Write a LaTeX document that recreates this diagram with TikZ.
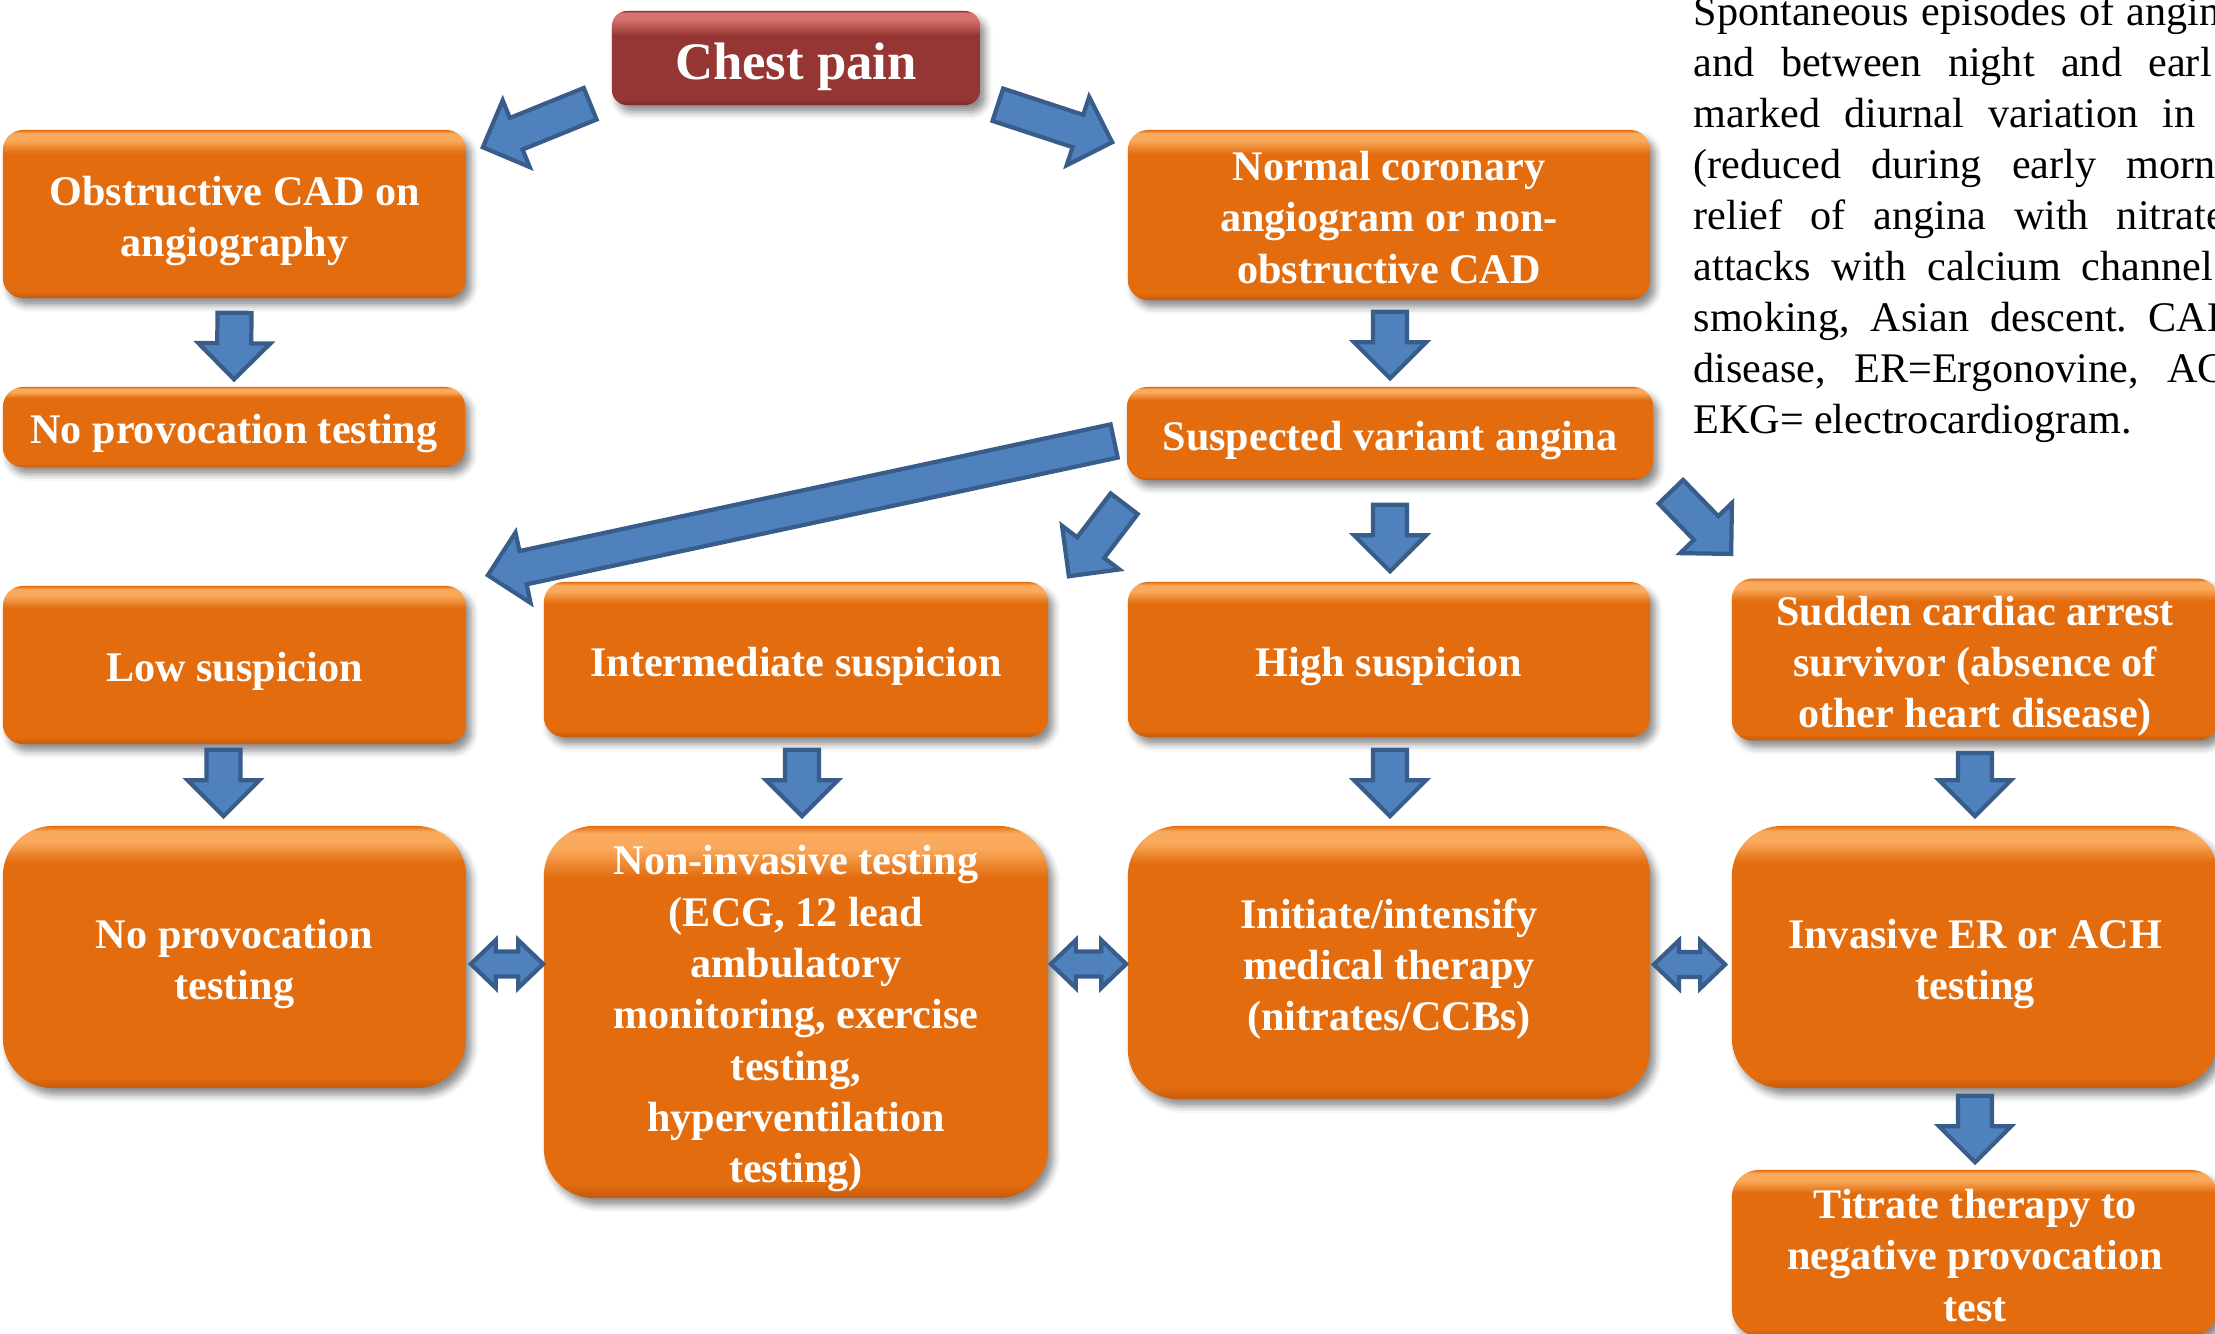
\documentclass[tikz,border=0pt]{standalone}
\usepackage{fontspec}
\setmainfont{Liberation Serif}
\usetikzlibrary{calc,shadows.blur}
\definecolor{orMain}{RGB}{226,108,14}
\definecolor{orLight}{RGB}{250,170,92}
\definecolor{orDark}{RGB}{198,90,12}
\definecolor{redMain}{RGB}{150,54,52}
\definecolor{redLight}{RGB}{216,116,112}
\definecolor{redDark}{RGB}{124,40,40}
\definecolor{arrFill}{RGB}{79,129,189}
\definecolor{arrLine}{RGB}{56,93,138}
\frenchspacing

\pgfdeclareverticalshading{orshade}{100bp}{color(0bp)=(orDark); color(25bp)=(orDark);
  color(27bp)=(orMain); color(68bp)=(orMain); color(72bp)=(orLight); color(74bp)=(orLight);
  color(75bp)=(orMain); color(100bp)=(orMain)}
\pgfdeclareverticalshading{redshade}{100bp}{color(0bp)=(redDark); color(25bp)=(redDark);
  color(28bp)=(redMain); color(62bp)=(redMain); color(71bp)=(redLight); color(74bp)=(redLight);
  color(75bp)=(redMain); color(100bp)=(redMain)}

% struts on the first and last line of a box text
\newcommand\boxlines[1]{\rule{0pt}{1.1em}#1\rule[-0.3em]{0pt}{0pt}}

\tikzset{
  obox/.style={rectangle, rounded corners=0.2cm, shading=orshade, text=white,
    font=\bfseries\fontsize{12}{14.6}\selectfont, align=center, inner sep=0pt,
    blur shadow={shadow xshift=1.5pt, shadow yshift=-2pt, shadow blur radius=2pt, shadow opacity=45}},
  tallbox/.style={obox, rounded corners=0.5cm},
  redbox/.style={obox, shading=redshade, rounded corners=0.15cm,
    font=\bfseries\fontsize{15}{18}\selectfont},
  barrow/.style={fill=arrFill, draw=arrLine, line width=1.2pt, line join=miter},
  notetext/.style={inner sep=0pt, text=black, font=\fontsize{12}{14.5}\selectfont}
}

% block arrow from tail #2 to tip #3
\newcommand\arrsw{0.17cm}
\newcommand\arrhw{0.36cm}
\newcommand\arrhl{0.36cm}
\newcommand\blockarr[3][]{%
  \path #2 coordinate (ba-t);
  \path #3 coordinate (ba-h);
  \path ($(ba-h)!\arrhl!(ba-t)$) coordinate (ba-c);
  \draw[barrow,#1] ($(ba-t)!\arrsw!90:(ba-h)$) -- ($(ba-c)!\arrsw!90:(ba-h)$)
    -- ($(ba-c)!\arrhw!90:(ba-h)$) -- (ba-h) -- ($(ba-c)!\arrhw!-90:(ba-h)$)
    -- ($(ba-c)!\arrsw!-90:(ba-h)$) -- ($(ba-t)!\arrsw!-90:(ba-h)$) -- cycle;}
% double block arrow between #2 and #3
\newcommand\dblarr[3][]{%
  \path #2 coordinate (da-a);
  \path #3 coordinate (da-b);
  \path ($(da-a)!0.25cm!(da-b)$) coordinate (da-c);
  \path ($(da-b)!0.25cm!(da-a)$) coordinate (da-d);
  \draw[barrow,#1] (da-a) -- ($(da-c)!0.24cm!90:(da-b)$) -- ($(da-c)!0.125cm!90:(da-b)$)
    -- ($(da-d)!0.125cm!90:(da-b)$) -- ($(da-d)!0.24cm!90:(da-b)$) -- (da-b)
    -- ($(da-d)!0.24cm!-90:(da-b)$) -- ($(da-d)!0.125cm!-90:(da-b)$)
    -- ($(da-c)!0.125cm!-90:(da-b)$) -- ($(da-c)!0.24cm!-90:(da-b)$) -- cycle;}

\begin{document}
\begin{tikzpicture}[x=0.01cm, y=-0.01cm]
  \useasboundingbox (0,0) rectangle (2215,1333);

  % boxes
  \node[redbox, minimum width=3.68cm, minimum height=0.94cm] (chest) at (796,58) {\boxlines{Chest pain}};
  \node[obox, minimum width=4.63cm, minimum height=1.68cm] (obst) at (234.5,214) {\boxlines{Obstructive CAD on\\angiography}};
  \node[obox, minimum width=4.62cm, minimum height=0.80cm] (noprovA) at (234,427) {\boxlines{No provocation testing}};
  \node[obox, minimum width=5.22cm, minimum height=1.70cm] (normal) at (1389,215) {\boxlines{Normal coronary\\angiogram or non-\\obstructive CAD}};
  \node[obox, minimum width=5.26cm, minimum height=0.93cm] (susp) at (1390,433.5) {\boxlines{Suspected variant angina}};
  \node[obox, minimum width=4.63cm, minimum height=1.58cm] (low) at (234.5,665) {\boxlines{Low suspicion}};
  \node[obox, minimum width=5.04cm, minimum height=1.55cm] (inter) at (796,659.5) {\boxlines{Intermediate suspicion}};
  \node[obox, minimum width=5.22cm, minimum height=1.55cm] (high) at (1389,659.5) {\boxlines{High suspicion}};
  \node[obox, minimum width=4.86cm, minimum height=1.55cm] (sca) at (1975,659.5) {\boxlines{Sudden cardiac arrest\\survivor (absence of\\other heart disease)}};
  \node[tallbox, minimum width=4.63cm, minimum height=2.62cm] (noprovB) at (234.5,957) {\boxlines{No provocation\\testing}};
  \node[tallbox, minimum width=5.04cm, minimum height=3.72cm] (nonin) at (796,1012) {\boxlines{Non-invasive testing\\(ECG, 12 lead\\ambulatory\\monitoring, exercise\\testing,\\hyperventilation\\testing)}};
  \node[tallbox, minimum width=5.22cm, minimum height=2.73cm] (init) at (1389,962.5) {\boxlines{Initiate/intensify\\medical therapy\\(nitrates/CCBs)}};
  \node[tallbox, minimum width=4.86cm, minimum height=2.62cm] (inv) at (1975,957) {\boxlines{Invasive ER or ACH\\testing}};
  \node[obox, rounded corners=0.27cm, minimum width=4.86cm, minimum height=1.66cm] (titr) at (1975,1253) {\boxlines{Titrate therapy to\\negative provocation\\test}};

  % arrows
  \blockarr{($(chest.south west)+(-21,-2)$)}{($(obst.north east)+(16,18)$)}
  \blockarr{($(chest.south east)+(17,-1)$)}{($(normal.north west)+(-15,13)$)}
  \blockarr{($(obst.south)+(0,14)$)}{($(noprovA.north)+(0,-7)$)}
  \blockarr{($(normal.south)+(1,11)$)}{($(susp.north)+(0,-8)$)}
  \blockarr{($(susp.west)+(-12,7.5)$)}{($(low.north east)+(21,-10)$)}
  \blockarr{($(susp.south west)+(-2,23)$)}{($(inter.north east)+(20,-5)$)}
  \blockarr{($(susp.south)+(0,24)$)}{($(high.north)+(1,-10)$)}
  \blockarr{($(susp.south east)+(17,11)$)}{($(sca.north west)+(0,-24)$)}
  \blockarr{($(low.south)+(-11,5)$)}{($(noprovB.north)+(-11,-9)$)}
  \blockarr{($(inter.south)+(6,12)$)}{($(nonin.north)+(6,-9)$)}
  \blockarr{($(high.south)+(1,12)$)}{($(init.north)+(1,-9)$)}
  \blockarr{($(sca.south)+(0,12)$)}{($(inv.north)+(0,-9)$)}
  \blockarr{($(inv.south)+(0,7)$)}{($(titr.north)+(0,-7)$)}
  \dblarr{($(noprovB.east)+(4,7)$)}{($(nonin.west |- noprovB.east)+(0,7)$)}
  \dblarr{($(nonin.east |- init.west)+(2,1.5)$)}{($(init.west)+(-1,1.5)$)}
  \dblarr{($(init.east)+(3,2)$)}{($(inv.west |- init.east)+(-6,2)$)}

  % note text, cut at the right edge
  \foreach \lw/\ltxt [count=\i from 0] in {
      527/{Spontaneous episodes of angin},
      518/{and between night and earl},
      502/{marked diurnal variation in},
      522/{(reduced during early morn},
      531/{relief of angina with nitrate},
      519/{attacks with calcium channel},
      544/{smoking, Asian descent. CAD},
      532/{disease, ER=Ergonovine, AC},
      438/{EKG= electrocardiogram.}}
    \node[notetext, anchor=base west] (note\i) at (1693, 25+51*\i)
      {\makebox[\dimexpr 0.01cm*\lw\relax][s]{\ltxt}};
\end{tikzpicture}
\end{document}
